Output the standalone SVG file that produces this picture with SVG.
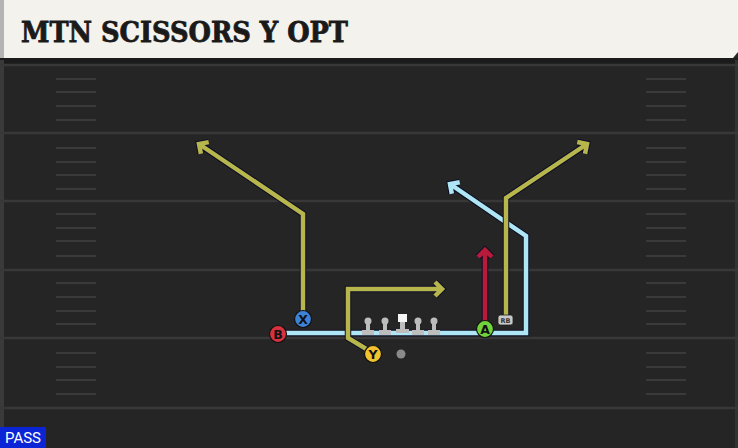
<svg xmlns="http://www.w3.org/2000/svg" width="738" height="448" viewBox="0 0 738 448">
<style>
.yard{stroke:#383838;stroke-width:2.5}
.hash{stroke:#3a3a3a;stroke-width:2}
.ol{fill:none;stroke:#0d0f24;stroke-width:6.5;stroke-linejoin:miter}
.rt{fill:none;stroke-width:4.5;stroke-linejoin:miter}
.blue{stroke:#aee6f5}
.yel{stroke:#b7b64c}
.red{stroke:#b81a3c}
.pl{stroke:#111;stroke-width:1.2}
.lbl{font-family:"DejaVu Sans","Liberation Sans",sans-serif;font-weight:bold;font-size:12.5px;fill:#111;text-anchor:middle}
.ln{fill:#bdbdbd}
</style>
<defs>
<marker id="mo" markerUnits="userSpaceOnUse" markerWidth="30" markerHeight="30" viewBox="-15 -15 30 30" refX="0" refY="0" orient="auto" overflow="visible">
<path d="M-7,-7 L0,0 L-7,7" fill="none" stroke="#0d0f24" stroke-width="6.5"/>
</marker>
<marker id="mb" markerUnits="userSpaceOnUse" markerWidth="30" markerHeight="30" viewBox="-15 -15 30 30" refX="0" refY="0" orient="auto" overflow="visible">
<path d="M-7,-7 L0,0 L-7,7" fill="none" stroke="#aee6f5" stroke-width="4.5"/>
</marker>
<marker id="my" markerUnits="userSpaceOnUse" markerWidth="30" markerHeight="30" viewBox="-15 -15 30 30" refX="0" refY="0" orient="auto" overflow="visible">
<path d="M-7,-7 L0,0 L-7,7" fill="none" stroke="#b7b64c" stroke-width="4.5"/>
</marker>
<marker id="mr" markerUnits="userSpaceOnUse" markerWidth="30" markerHeight="30" viewBox="-15 -15 30 30" refX="0" refY="0" orient="auto" overflow="visible">
<path d="M-7,-7 L0,0 L-7,7" fill="none" stroke="#b81a3c" stroke-width="4.5"/>
</marker>
</defs>

<g id="field">
<rect x="0" y="0" width="738" height="448" fill="#252525"/>
<rect x="0" y="58" width="738" height="7" fill="#1b1b1b"/>
<rect x="0" y="60" width="4" height="388" fill="#3a3a3a"/>
<rect x="735" y="60" width="3" height="388" fill="#333"/>
<line class="yard" x1="0" y1="65" x2="738" y2="65"/>
<line class="yard" x1="0" y1="133" x2="738" y2="133"/>
<line class="yard" x1="0" y1="201" x2="738" y2="201"/>
<line class="yard" x1="0" y1="270" x2="738" y2="270"/>
<line class="yard" x1="0" y1="338" x2="738" y2="338"/>
<line class="yard" x1="0" y1="408" x2="738" y2="408"/>
<g id="hashL">
<line class="hash" x1="56" y1="79" x2="96" y2="79"/>
<line class="hash" x1="56" y1="92" x2="96" y2="92"/>
<line class="hash" x1="56" y1="106" x2="96" y2="106"/>
<line class="hash" x1="56" y1="120" x2="96" y2="120"/>
<line class="hash" x1="56" y1="148" x2="96" y2="148"/>
<line class="hash" x1="56" y1="162" x2="96" y2="162"/>
<line class="hash" x1="56" y1="175" x2="96" y2="175"/>
<line class="hash" x1="56" y1="189" x2="96" y2="189"/>
<line class="hash" x1="56" y1="214" x2="96" y2="214"/>
<line class="hash" x1="56" y1="228" x2="96" y2="228"/>
<line class="hash" x1="56" y1="241" x2="96" y2="241"/>
<line class="hash" x1="56" y1="256" x2="96" y2="256"/>
<line class="hash" x1="56" y1="283" x2="96" y2="283"/>
<line class="hash" x1="56" y1="297" x2="96" y2="297"/>
<line class="hash" x1="56" y1="311" x2="96" y2="311"/>
<line class="hash" x1="56" y1="324" x2="96" y2="324"/>
<line class="hash" x1="56" y1="353" x2="96" y2="353"/>
<line class="hash" x1="56" y1="367" x2="96" y2="367"/>
<line class="hash" x1="56" y1="380" x2="96" y2="380"/>
<line class="hash" x1="56" y1="394" x2="96" y2="394"/>
</g>
<g id="hashR">
<line class="hash" x1="646" y1="79" x2="686" y2="79"/>
<line class="hash" x1="646" y1="92" x2="686" y2="92"/>
<line class="hash" x1="646" y1="106" x2="686" y2="106"/>
<line class="hash" x1="646" y1="120" x2="686" y2="120"/>
<line class="hash" x1="646" y1="148" x2="686" y2="148"/>
<line class="hash" x1="646" y1="162" x2="686" y2="162"/>
<line class="hash" x1="646" y1="175" x2="686" y2="175"/>
<line class="hash" x1="646" y1="189" x2="686" y2="189"/>
<line class="hash" x1="646" y1="214" x2="686" y2="214"/>
<line class="hash" x1="646" y1="228" x2="686" y2="228"/>
<line class="hash" x1="646" y1="241" x2="686" y2="241"/>
<line class="hash" x1="646" y1="256" x2="686" y2="256"/>
<line class="hash" x1="646" y1="283" x2="686" y2="283"/>
<line class="hash" x1="646" y1="297" x2="686" y2="297"/>
<line class="hash" x1="646" y1="311" x2="686" y2="311"/>
<line class="hash" x1="646" y1="324" x2="686" y2="324"/>
<line class="hash" x1="646" y1="353" x2="686" y2="353"/>
<line class="hash" x1="646" y1="367" x2="686" y2="367"/>
<line class="hash" x1="646" y1="380" x2="686" y2="380"/>
<line class="hash" x1="646" y1="394" x2="686" y2="394"/>
</g>
</g>

<g id="header">
<path d="M0,0 H738 V52 L733,58 H0 Z" fill="#f4f2ec"/>
<rect x="0" y="0" width="4" height="58" fill="#b4b4b2"/>
<text x="21" y="42" font-family="'DejaVu Serif','Liberation Serif',serif" font-weight="bold" font-size="27" fill="#1a1a1a" stroke="#1a1a1a" stroke-width="0.8" textLength="327" lengthAdjust="spacingAndGlyphs">MTN SCISSORS Y OPT</text>
</g>

<g id="connectors">
<path class="ol" d="M278,333 H526 V236 L450,184" marker-end="url(#mo)"/>
<path class="rt blue" d="M278,333 H526 V236 L450,184" marker-end="url(#mb)"/>
<path class="ol" d="M303,319 V214 L199,144" marker-end="url(#mo)"/>
<path class="rt yel" d="M303,319 V214 L199,144" marker-end="url(#my)"/>
<path class="ol" d="M373,353 L348,338 V289 H442" marker-end="url(#mo)"/>
<path class="rt yel" d="M373,353 L348,338 V289 H442" marker-end="url(#my)"/>
<path class="ol" d="M506,318 V198 L587,144" marker-end="url(#mo)"/>
<path class="rt yel" d="M506,318 V198 L587,144" marker-end="url(#my)"/>
<path class="ol" d="M485,329 V250" marker-end="url(#mo)"/>
<path class="rt red" d="M485,329 V250" marker-end="url(#mr)"/>
</g>

<g id="line">
<g id="lt"><circle class="ln" cx="368" cy="321" r="3.5"/><rect class="ln" x="366" y="321" width="4" height="10"/><rect class="ln" x="362" y="330" width="12" height="5"/></g>
<g id="lg"><circle class="ln" cx="385" cy="321" r="3.5"/><rect class="ln" x="383" y="321" width="4" height="10"/><rect class="ln" x="379" y="330" width="12" height="5"/></g>
<g id="c"><rect x="398" y="314" width="9" height="8" fill="#f4f4f4"/><rect class="ln" x="400" y="322" width="5" height="8"/><rect class="ln" x="396" y="329" width="13" height="4"/></g>
<g id="rg"><circle class="ln" cx="418" cy="321" r="3.5"/><rect class="ln" x="416" y="321" width="4" height="10"/><rect class="ln" x="412" y="330" width="12" height="5"/></g>
<g id="rt"><circle class="ln" cx="434" cy="321" r="3.5"/><rect class="ln" x="432" y="321" width="4" height="10"/><rect class="ln" x="428" y="330" width="12" height="5"/></g>
</g>

<g id="qb"><circle cx="401" cy="354" r="4.5" fill="#8a8a8a"/></g>

<g id="rb">
<rect x="498" y="315" width="15" height="10" rx="2.5" fill="#c9c9c9" stroke="#222" stroke-width="0.8"/>
<text x="505.5" y="323" font-family="'DejaVu Sans',sans-serif" font-size="6.5" font-weight="bold" fill="#333" text-anchor="middle">RB</text>
</g>

<g id="B"><circle class="pl" cx="278" cy="334" r="8.5" fill="#d9323f"/><text class="lbl" x="278" y="338.5">B</text></g>
<g id="X"><circle class="pl" cx="303" cy="319" r="8.5" fill="#3d82d9"/><text class="lbl" x="303" y="323.5">X</text></g>
<g id="Y"><circle class="pl" cx="373" cy="354" r="8.5" fill="#f2c22f"/><text class="lbl" x="373" y="358.5">Y</text></g>
<g id="A"><circle class="pl" cx="485" cy="329" r="8.5" fill="#71d33b"/><text class="lbl" x="485" y="333.5">A</text></g>

<g id="pass">
<rect x="0" y="427" width="46" height="21" fill="#0b24d6"/>
<text x="23" y="443" font-family="'Roboto','Liberation Sans',sans-serif" font-size="15" fill="#ffffff" text-anchor="middle">PASS</text>
</g>
</svg>
